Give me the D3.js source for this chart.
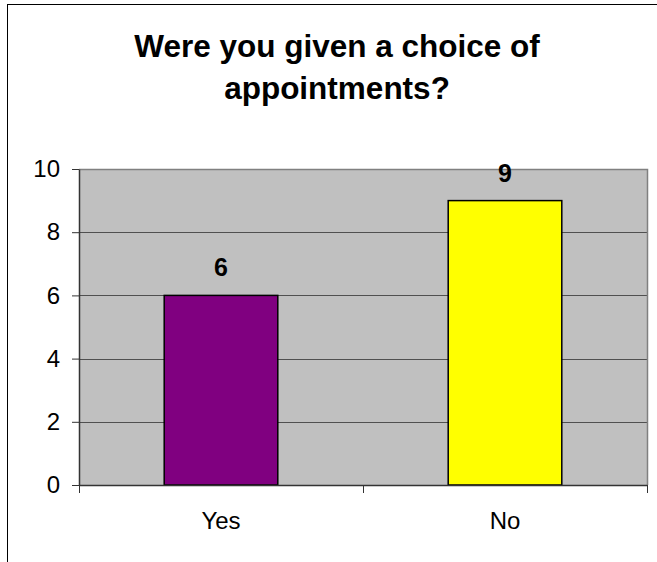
<!DOCTYPE html>
<html>
<head>
<meta charset="utf-8">
<script src="https://cdn.jsdelivr.net/npm/d3@7"></script>
<style>
  html, body { margin: 0; padding: 0; background: #fff; }
  svg { display: block; font-family: "Liberation Sans", Arial, sans-serif; }
</style>
</head>
<body>
<svg id="chart" width="657" height="562"></svg>
<script>
// Survey answers
const categories = ["Yes", "No"];
const values = [6, 9];
const barColors = ["#800080", "#FFFF00"];
const yTicks = [0, 2, 4, 6, 8, 10];
const titleLines = ["Were you given a choice of", "appointments?"];

const svg = d3.select("#chart");
const plot = { left: 79, right: 647, top: 169, bottom: 485 };

// Outer chart frame (runs off the right and bottom edges)
svg.append("rect")
  .attr("x", 7.5).attr("y", 4.5)
  .attr("width", 700).attr("height", 700)
  .attr("fill", "#fff").attr("stroke", "#000").attr("stroke-width", 1);

// Title
svg.append("text")
  .attr("text-anchor", "middle")
  .attr("font-weight", "bold")
  .attr("font-size", 31.5)
  .attr("fill", "#000")
  .selectAll("tspan")
  .data(titleLines)
  .join("tspan")
  .attr("x", 337)
  .attr("y", (d, i) => 57 + i * 42)
  .text(d => d);

const x = d3.scaleBand().domain(categories).range([plot.left, plot.right]);
const y = d3.scaleLinear().domain([0, 10]).range([plot.bottom, plot.top]);

// Plot area background
svg.append("rect")
  .attr("x", plot.left).attr("y", plot.top)
  .attr("width", plot.right - plot.left).attr("height", plot.bottom - plot.top)
  .attr("fill", "#C0C0C0");

// Horizontal gridlines
svg.append("g")
  .selectAll("line")
  .data(yTicks.filter(t => t > 0 && t < 10))
  .join("line")
  .attr("x1", plot.left).attr("x2", plot.right)
  .attr("y1", d => Math.round(y(d)) + 0.5).attr("y2", d => Math.round(y(d)) + 0.5)
  .attr("stroke", "#505050").attr("stroke-width", 1);

// Top and right edges of the plot area
svg.append("path")
  .attr("d", `M${plot.left},${plot.top + 0.5}H${plot.right + 0.5}V${plot.bottom}`)
  .attr("fill", "none").attr("stroke", "#808080").attr("stroke-width", 1.5);

// Bars
const barW = x.bandwidth() * 0.4;
svg.append("g")
  .selectAll("rect")
  .data(categories.map((c, i) => ({ c, v: values[i], color: barColors[i] })))
  .join("rect")
  .attr("x", d => x(d.c) + (x.bandwidth() - barW) / 2)
  .attr("y", d => y(d.v))
  .attr("width", barW)
  .attr("height", d => y(0) - y(d.v))
  .attr("fill", d => d.color)
  .attr("stroke", "#000").attr("stroke-width", 1.5);

// Value labels
svg.append("g")
  .selectAll("text")
  .data(categories.map((c, i) => ({ c, v: values[i] })))
  .join("text")
  .attr("x", d => x(d.c) + x.bandwidth() / 2)
  .attr("y", d => y(d.v) - 19)
  .attr("text-anchor", "middle")
  .attr("font-weight", "bold")
  .attr("font-size", 25)
  .attr("fill", "#000")
  .text(d => d.v);

// Y axis
const yAxis = svg.append("g")
  .attr("transform", `translate(${plot.left},0)`)
  .call(d3.axisLeft(y).tickValues(yTicks).tickSize(7).tickPadding(12).tickSizeOuter(0));
yAxis.select(".domain").attr("stroke", "#333").attr("stroke-width", 1.5);
yAxis.selectAll(".tick line").attr("stroke", "#333");
yAxis.selectAll(".tick text")
  .attr("font-family", "'Liberation Sans', Arial, sans-serif")
  .attr("font-size", 24).attr("fill", "#000");

// X axis: category labels centered in bands, tick marks on band boundaries
const xAxis = svg.append("g")
  .attr("transform", `translate(0,${plot.bottom})`)
  .call(d3.axisBottom(x).tickSize(0).tickPadding(27).tickSizeOuter(0));
xAxis.select(".domain").attr("stroke", "#333").attr("stroke-width", 1.5);
xAxis.selectAll(".tick text")
  .attr("font-family", "'Liberation Sans', Arial, sans-serif")
  .attr("font-size", 24).attr("fill", "#000");
const boundaries = categories.map(c => x(c)).concat([plot.right]);
xAxis.selectAll(".bound")
  .data(boundaries)
  .join("line")
  .attr("class", "bound")
  .attr("x1", d => Math.round(d) + 0.5).attr("x2", d => Math.round(d) + 0.5)
  .attr("y1", 0).attr("y2", 8)
  .attr("stroke", "#333");
</script>
</body>
</html>
